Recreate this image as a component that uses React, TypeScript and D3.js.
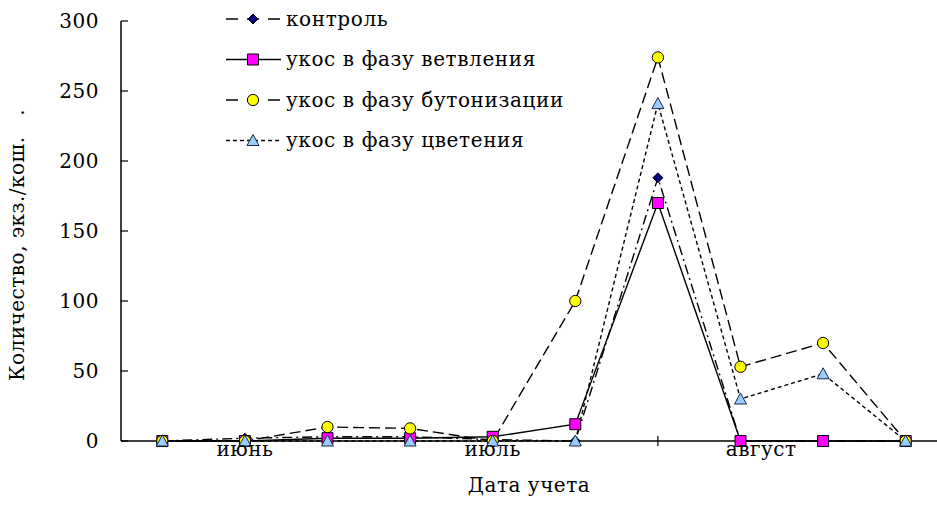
import * as d3 from "d3";
import React from "react";

// значения (10 учетов)
const dates = ["1", "2", "3", "4", "5", "6", "7", "8", "9", "10"];
const kontrol = [0, 2, 3, 3, 1, 0, 188, 0, 0, 0];
const vetvlenie = [0, 0, 2, 2, 3, 12, 170, 0, 0, 0];
const butonizacia = [0, 0, 10, 9, 0, 100, 274, 53, 70, 0];
const cvetenie = [0, 0, 0, 0, 0, 0, 241, 30, 48, 0];

const monthLabels = ["июнь", "июль", "август"];
const monthPos = [1, 4, 7.25];
const yTicks = [0, 50, 100, 150, 200, 250, 300];

const series = [
  { name: "контроль", values: kontrol, dash: "10,4,2,4", legendDash: "12,9", marker: "diamond", fill: "#000080" },
  { name: "укос в фазу ветвления", values: vetvlenie, dash: "none", legendDash: "none", marker: "square", fill: "#FF00FF" },
  { name: "укос в фазу бутонизации", values: butonizacia, dash: "11,5", legendDash: "12,9", marker: "circle", fill: "#FFFF00" },
  { name: "укос в фазу цветения", values: cvetenie, dash: "4,3", legendDash: "4,3", marker: "triangle", fill: "#99CCFF" },
];

const FONT = "'DejaVu Serif', serif";
const FS = 20;

function markerPath(type: string) {
  if (type === "diamond") return "M0,-5L5,0L0,5L-5,0Z";
  if (type === "square") return "M-5.5,-5.5H5.5V5.5H-5.5Z";
  if (type === "triangle") return "M0,-6L6,5H-6Z";
  return d3.symbol().type(d3.symbolCircle).size(100)() as string;
}

function Marker({ type, fill, x, y }: { type: string; fill: string; x: number; y: number }) {
  return (
    <path
      d={markerPath(type)}
      transform={`translate(${x},${y})`}
      fill={fill}
      stroke={type === "triangle" ? "#1a2a44" : "#000"}
      strokeWidth={1}
    />
  );
}

export default function App() {
  const width = 937;
  const height = 520;
  const left = 121;
  const top = 21;
  const bottom = 441;

  const x = d3
    .scalePoint<number>()
    .domain(d3.range(dates.length))
    .range([left, 947])
    .padding(0.5);
  const step = x.step();
  const xf = (i: number) => (x(0) as number) + i * step;
  const y = d3.scaleLinear().domain([0, 300]).range([bottom, top]);

  const line = d3
    .line<number>()
    .x((_, i) => x(i) as number)
    .y((d) => y(d));

  return (
    <svg width={width} height={height} style={{ position: "absolute", left: 0, top: 0 }} fontFamily={FONT}>
      <rect width={width} height={height} fill="#fff" />
      {/* ось Y */}
      <line x1={left} x2={left} y1={top} y2={bottom} stroke="#000" strokeWidth={1.5} />
      {yTicks.map((t) => (
        <g key={t}>
          <line x1={left} x2={left + 7} y1={y(t)} y2={y(t)} stroke="#000" strokeWidth={1.2} />
          <text x={99} y={y(t)} dy="0.36em" textAnchor="end" fontSize={FS} letterSpacing={0.5}>
            {t}
          </text>
        </g>
      ))}
      {/* ось X */}
      <line x1={left} x2={width} y1={bottom} y2={bottom} stroke="#000" strokeWidth={1.5} />
      <line x1={x(6)} x2={x(6)} y1={bottom - 5} y2={bottom + 5} stroke="#000" strokeWidth={1.2} />

      {series.map((s) => (
        <path
          key={s.name}
          d={line(s.values) as string}
          fill="none"
          stroke="#000"
          strokeWidth={1.4}
          strokeDasharray={s.dash}
        />
      ))}
      {series.map((s) => (
        <g key={s.name + "m"}>
          {s.values.map((v, i) => (
            <Marker key={i} type={s.marker} fill={s.fill} x={x(i) as number} y={y(v)} />
          ))}
        </g>
      ))}

      {monthLabels.map((m, i) => (
        <text key={m} x={xf(monthPos[i])} y={456} textAnchor="middle" fontSize={FS} letterSpacing={0.5}>
          {m}
        </text>
      ))}

      {/* легенда */}
      {series.map((s, i) => {
        const ly = 19 + i * 40.5;
        return (
          <g key={s.name + "l"}>
            <line x1={226} x2={281} y1={ly} y2={ly} stroke="#000" strokeWidth={1.4} strokeDasharray={s.legendDash} />
            <Marker type={s.marker} fill={s.fill} x={253} y={ly} />
            <text x={286} y={ly} dy="0.33em" fontSize={FS} letterSpacing={0.6}>
              {s.name}
            </text>
          </g>
        );
      })}

      <text
        transform={`translate(24,${(top + bottom) / 2 + 14}) rotate(-90)`}
        textAnchor="middle"
        fontSize={FS}
        letterSpacing={0.5}
        style={{ whiteSpace: "pre" }}
      >
        {"Количество, экз./кош.   ."}
      </text>
      <text x={529} y={492} textAnchor="middle" fontSize={FS} letterSpacing={0.5}>
        Дата учета
      </text>
    </svg>
  );
}
